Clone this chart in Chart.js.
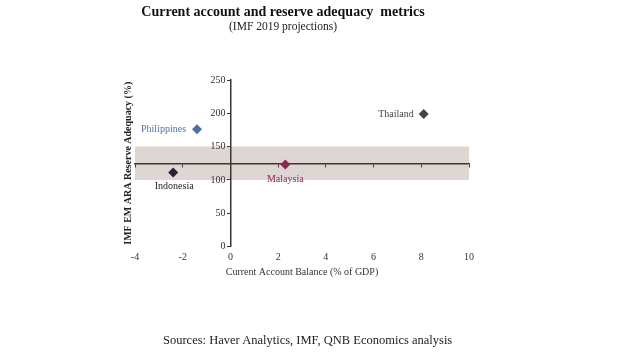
<!DOCTYPE html>
<html><head><meta charset="utf-8">
<script src="https://cdn.jsdelivr.net/npm/chart.js@4/dist/chart.umd.min.js"></script>
<style>
html,body{margin:0;padding:0;background:#fff;}
#wrap{position:relative;width:620px;height:355px;}
#source{position:absolute;left:163px;top:332px;white-space:nowrap;font:12.5px "Liberation Serif",serif;color:#222;line-height:16px;}
</style></head><body>
<div id="wrap"><canvas id="c" width="620" height="355"></canvas>
<div id="source">Sources: Haver Analytics, IMF, QNB Economics analysis</div></div>
<script>
// ---- data ----
const countries = ['Philippines', 'Indonesia', 'Malaysia', 'Thailand'];
const currentAccount = [-1.4, -2.4, 2.3, 8.1];      // % of GDP
const reserveAdequacy = [176, 111, 123, 199];       // IMF EM ARA (%)
const bandX = [-4, 10];
const bandLow = [100, 100];
const bandHigh = [150, 150];
const crossLevel = 125;
const xTickRange = [-4, 10];
const yTickRange = [0, 250];

// ---- styles ----
const pointColors = ['#4a6ea8', '#2a1f33', '#8b2b55', '#444444'];
const labelColors = ['#4d6fa8', '#222222', '#8b2b55', '#444444'];
const labelPlacement = [
  {dx: -11, dy: 0, align: 'right'},
  {dx: 1, dy: 14, align: 'center'},
  {dx: 0, dy: 15, align: 'center'},
  {dx: -10, dy: 0, align: 'right'}
];
const SERIF = '"Liberation Serif", "Times New Roman", serif';
const AXIS = '#3d3535';

const pointLabels = {
  id: 'pointLabels',
  afterDatasetsDraw(chart) {
    const meta = chart.getDatasetMeta(2);
    const ctx = chart.ctx;
    ctx.save();
    ctx.font = '10px ' + SERIF;
    ctx.textBaseline = 'middle';
    meta.data.forEach((pt, i) => {
      const p = labelPlacement[i];
      ctx.fillStyle = labelColors[i];
      ctx.textAlign = p.align;
      ctx.fillText(countries[i], pt.x + p.dx, pt.y + p.dy);
    });
    ctx.restore();
  }
};

new Chart(document.getElementById('c'), {
  type: 'scatter',
  data: {
    datasets: [
      {
        type: 'line',
        data: bandX.map((x, i) => ({x, y: bandHigh[i]})),
        borderWidth: 0, pointRadius: 0, fill: false,
        backgroundColor: 'rgba(0,0,0,0)', borderColor: 'rgba(0,0,0,0)', order: 3
      },
      {
        type: 'line',
        data: bandX.map((x, i) => ({x, y: bandLow[i]})),
        borderWidth: 0, pointRadius: 0, fill: '-1',
        backgroundColor: 'rgba(85,50,35,0.2)', borderColor: 'rgba(0,0,0,0)', order: 2
      },
      {
        data: countries.map((c, i) => ({x: currentAccount[i], y: reserveAdequacy[i]})),
        pointStyle: 'rectRot', pointRadius: 5, pointHoverRadius: 5,
        backgroundColor: pointColors, borderColor: pointColors, borderWidth: 0, order: 1
      }
    ]
  },
  options: {
    responsive: false, animation: false, devicePixelRatio: 1,
    layout: {padding: {left: 97, right: 151, top: 0, bottom: 73}},
    plugins: {
      legend: {display: false}, tooltip: {enabled: false},
      title: {display: true, text: 'Current account and reserve adequacy  metrics',
        font: {family: SERIF, size: 14, weight: 'bold'}, color: '#111', padding: {top: 3.6, bottom: 0}},
      subtitle: {display: true, text: '(IMF 2019 projections)',
        font: {family: SERIF, size: 11.5}, color: '#222', padding: {top: 0, bottom: 45.8}}
    },
    scales: {
      x: {
        type: 'linear', position: 'bottom', min: xTickRange[0], max: xTickRange[1],
        ticks: {stepSize: 2, color: '#333', font: {family: SERIF, size: 10}, padding: 5},
        grid: {display: false, drawTicks: false}, border: {display: false},
        title: {display: true, text: 'Current Account Balance (% of GDP)', color: '#333',
          font: {family: SERIF, size: 10}, padding: {top: -2.5, bottom: 4}}
      },
      xCross: {
        type: 'linear', axis: 'x', position: {y: crossLevel}, min: xTickRange[0], max: xTickRange[1],
        ticks: {display: false, stepSize: 2},
        grid: {display: true, drawOnChartArea: false, drawTicks: true, tickLength: 3, color: AXIS, lineWidth: 1},
        border: {display: true, color: AXIS, width: 1.5}
      },
      yTitle: {
        type: 'linear', position: 'left', min: yTickRange[0], max: yTickRange[1],
        ticks: {display: false}, grid: {display: false, drawTicks: false}, border: {display: false},
        title: {display: true, text: 'IMF EM ARA Reserve Adequacy (%)', color: '#222',
          font: {family: SERIF, size: 10, weight: 'bold'}, padding: {top: 25, bottom: 1}}
      },
      y: {
        type: 'linear', position: {x: 0}, min: yTickRange[0], max: yTickRange[1],
        ticks: {stepSize: 50, color: '#333', font: {family: SERIF, size: 10}, padding: 3,
          callback: v => v + '\u2002'},
        grid: {display: true, drawOnChartArea: false, drawTicks: true, tickLength: 3, color: AXIS, lineWidth: 1},
        border: {display: true, color: AXIS, width: 1.5}
      }
    }
  },
  plugins: [pointLabels]
});
</script>
</body></html>
